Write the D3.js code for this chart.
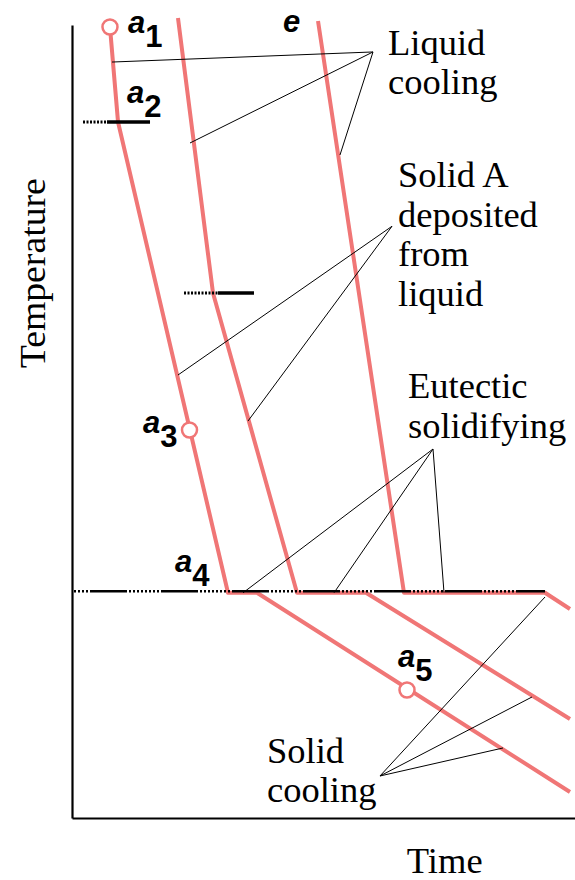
<!DOCTYPE html>
<html>
<head>
<meta charset="utf-8">
<script src="https://cdn.jsdelivr.net/npm/d3@7"></script>
<style>
  body { margin: 0; background: #fff; }
  .serif { font-family: "Liberation Serif", "Times New Roman", serif; font-size: 36.5px; fill: #000; }
  .pt { font-family: "Liberation Sans", Arial, sans-serif; font-size: 31px; font-weight: bold; fill: #000; }
</style>
</head>
<body>
<div id="chart"></div>
<script>
// time / temperature in arbitrary units (0-100)
const curveA = [[7.55, 99.75], [9.15, 87.77], [31.01, 28.4], [36.78, 28.4], [99.0, 3.28]];
const curveB = [[21.07, 100.88], [28.03, 66.2], [44.73, 28.4], [58.45, 28.4], [99.0, 12.48]];
const curveE = [[48.91, 100.5], [66.0, 28.4], [94.04, 28.4], [99.0, 26.36]];
const eutecticT = 28.4, eutecticEnd = 94.04;

// short bars: temperature, dotted from t0 to t1, solid from t1 to t2
const bars = [
  { T: 87.77, t0: 2.19, t1: 6.96, t2: 15.51 },
  { T: 66.2, t0: 22.27, t1: 29.03, t2: 36.18 }
];

const circles = [[7.55, 99.75], [23.36, 48.93], [66.6, 16.14]];

const pointLabels = [
  { main: "a", sub: "1", t: 11.13, T: 98.99 },
  { main: "a", sub: "2", t: 10.93, T: 90.16 },
  { main: "a", sub: "3", t: 14.12, T: 48.55 },
  { main: "a", sub: "4", t: 20.48, T: 31.02 },
  { main: "a", sub: "5", t: 64.81, T: 19.04 },
  { main: "e", sub: "", t: 41.95, T: 99.12 }
];

const notes = [
  { lines: ["Liquid", "cooling"], t: 62.82, T: 96.22, apex: [59.84, 96.6],
    targets: [[7.95, 95.33], [23.46, 85.12], [53.28, 83.61]] },
  { lines: ["Solid A", "deposited", "from", "liquid"], t: 64.81, T: 79.57, apex: [63.62, 74.62],
    targets: [[21.07, 55.86], [34.99, 50.06]] },
  { lines: ["Eutectic", "solidifying"], t: 66.8, T: 52.96, apex: [71.77, 46.53],
    targets: [[34.0, 28.4], [52.09, 28.4], [73.96, 28.4]] },
  { lines: ["Solid", "cooling"], t: 38.77, T: 6.94, apex: [61.23, 5.30],
    targets: [[94.04, 27.87], [91.45, 15.26], [85.69, 8.83]] }
];

let width = 575, height = 880,
    margin = ({ top: 25, right: 0, bottom: 62, left: 72 });

const svg = d3.select("#chart")
  .append("svg")
  .attr("width", width)
  .attr("height", height);

let x = d3.scaleLinear().domain([0, 100]).range([margin.left, width - margin.right]);
let y = d3.scaleLinear().domain([0, 100]).range([height - margin.bottom, margin.top]);

const pink = "#f07676";

// axes, no ticks
svg.append("g")
  .attr("transform", `translate(0,${height - margin.bottom})`)
  .call(d3.axisBottom(x).tickValues([]).tickSizeOuter(0))
  .select(".domain").attr("stroke-width", 2.2);

svg.append("g")
  .attr("transform", `translate(${margin.left},0)`)
  .call(d3.axisLeft(y).tickValues([]).tickSizeOuter(0))
  .select(".domain").attr("stroke-width", 2.2);

// cooling curves
let line = d3.line().x(d => x(d[0])).y(d => y(d[1]));

svg.append("g")
  .selectAll("path")
  .data([curveA, curveB, curveE])
  .join("path")
  .attr("d", line)
  .attr("fill", "none")
  .attr("stroke", pink)
  .attr("stroke-width", 4)
  .attr("stroke-linejoin", "round");

// eutectic line: alternating solid and dotted pieces
let dash = [37, 2];
for (let i = 0; i < 8; i++) dash.push(2, 2);
svg.append("line")
  .attr("x1", x(0)).attr("x2", x(eutecticEnd))
  .attr("y1", y(eutecticT) - 1.5).attr("y2", y(eutecticT) - 1.5)
  .attr("stroke", "#000")
  .attr("stroke-width", 2.4)
  .attr("stroke-dasharray", dash.join(","))
  .attr("stroke-dashoffset", 53);

// small bars
bars.forEach(b => {
  svg.append("line")
    .attr("x1", x(b.t0)).attr("x2", x(b.t1))
    .attr("y1", y(b.T)).attr("y2", y(b.T))
    .attr("stroke", "#000").attr("stroke-width", 3)
    .attr("stroke-dasharray", "2,1.5");
  svg.append("line")
    .attr("x1", x(b.t1)).attr("x2", x(b.t2))
    .attr("y1", y(b.T)).attr("y2", y(b.T))
    .attr("stroke", "#000").attr("stroke-width", 3.5);
});

// leader lines and notes
notes.forEach(n => {
  svg.append("g")
    .selectAll("line")
    .data(n.targets)
    .join("line")
    .attr("x1", x(n.apex[0])).attr("y1", y(n.apex[1]))
    .attr("x2", d => x(d[0])).attr("y2", d => y(d[1]))
    .attr("stroke", "#000")
    .attr("stroke-width", 1);

  svg.append("text")
    .attr("class", "serif")
    .attr("x", x(n.t))
    .attr("y", y(n.T))
    .selectAll("tspan")
    .data(n.lines)
    .join("tspan")
    .attr("x", x(n.t))
    .attr("dy", (d, i) => i === 0 ? 0 : 39.5)
    .text(d => d);
});

// open circles
svg.append("g")
  .selectAll("circle")
  .data(circles)
  .join("circle")
  .attr("cx", d => x(d[0]))
  .attr("cy", d => y(d[1]))
  .attr("r", 7.5)
  .attr("fill", "#fff")
  .attr("stroke", pink)
  .attr("stroke-width", 2.5);

// point labels a1..a5, e
pointLabels.forEach(p => {
  let t = svg.append("text")
    .attr("class", "pt")
    .attr("x", x(p.t))
    .attr("y", y(p.T));
  t.append("tspan").attr("font-style", "italic").text(p.main);
  if (p.sub) t.append("tspan").attr("dx", 0).attr("dy", 14).text(p.sub);
});

// axis titles
svg.append("text")
  .attr("class", "serif")
  .attr("text-anchor", "middle")
  .attr("textLength", 190)
  .attr("lengthAdjust", "spacingAndGlyphs")
  .attr("transform", `translate(45,${y(68.7)}) rotate(-90)`)
  .text("Temperature");

svg.append("text")
  .attr("class", "serif")
  .attr("text-anchor", "middle")
  .attr("x", x(74.1))
  .attr("y", 873)
  .text("Time");
</script>
</body>
</html>
